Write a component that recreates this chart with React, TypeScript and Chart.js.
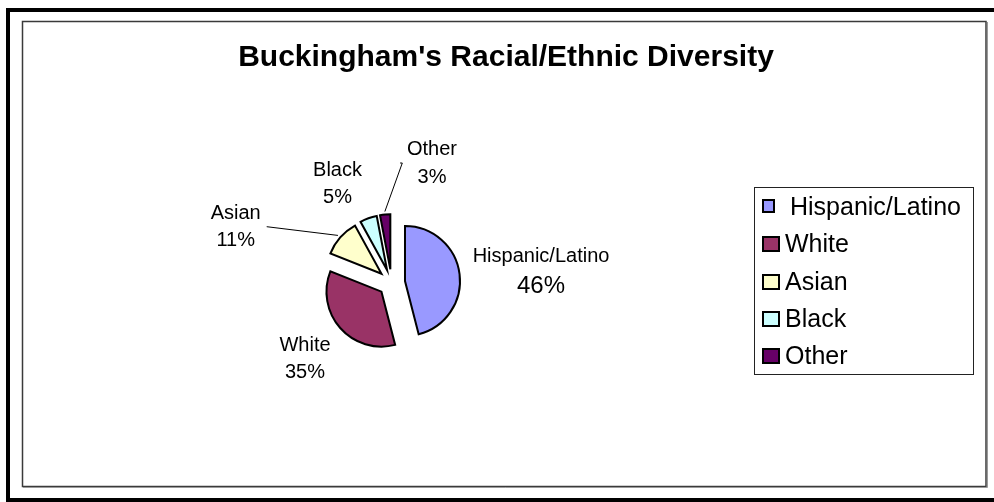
import React, { useEffect, useRef } from "react";
import { Chart, registerables } from "chart.js";

Chart.register(...registerables);

// ---- data ----
const TITLE = "Buckingham's Racial/Ethnic Diversity";
const categories = ["Hispanic/Latino", "White", "Asian", "Black", "Other"];
const values = [46, 35, 11, 5, 3];
const colors = ["#9999FF", "#993366", "#FFFFCC", "#CCFFFF", "#660066"];

// ---- layout / style ----
const W = 994;
const H = 502;
const FONT = "'Liberation Sans', Arial, Helvetica, sans-serif";
const PIE_CX = 391.6;
const PIE_CY = 282.7;
const PIE_R = 55;
const EXPLODE = 13.5;

// data label placement relative to pie center (x center, first baseline)
const labelLayout = [
  { dx: 149.4, dy: -20.7, gap: 31, nameSize: 20, pctSize: 24 },
  { dx: -86.6, dy: 68.3, gap: 27, nameSize: 20, pctSize: 20 },
  { dx: -155.9, dy: -63.7, gap: 27, nameSize: 20, pctSize: 20 },
  { dx: -54.1, dy: -106.7, gap: 27, nameSize: 20, pctSize: 20 },
  { dx: 40.4, dy: -127.7, gap: 28, nameSize: 20, pctSize: 20 },
];
// leader line start points relative to pie center (null = none)
const leaderStarts: (number[][] | null)[] = [
  null,
  null,
  [[-124.9, -56]],
  null,
  [[8.5, -119.7], [10.7, -119.7]],
];

const legendBox = { x: 754, y: 187, w: 219, h: 187 };
const legendRows = [
  { sx: 763, sw: 11, sh: 12, sBottom: 212, tx: 790, base: 215 },
  { sx: 763, sw: 16, sh: 14, sBottom: 251, tx: 785, base: 252 },
  { sx: 763, sw: 16, sh: 14, sBottom: 289, tx: 785, base: 289.5 },
  { sx: 763, sw: 16, sh: 14, sBottom: 326, tx: 785, base: 327 },
  { sx: 763, sw: 16, sh: 14, sBottom: 363, tx: 785, base: 364 },
];

const framePlugin = {
  id: "frame",
  beforeDraw(chart: any) {
    const ctx = chart.ctx;
    ctx.save();
    ctx.fillStyle = "#ffffff";
    ctx.fillRect(0, 0, W, H);
    // outer thick black frame
    ctx.strokeStyle = "#000000";
    ctx.lineWidth = 4;
    ctx.strokeRect(8, 10, 1000, 490);
    // inner frame
    ctx.strokeStyle = "#3a3a3a";
    ctx.lineWidth = 1.5;
    ctx.strokeRect(22.5, 21.5, 963.5, 465);
    ctx.strokeStyle = "#9a9a9a";
    ctx.lineWidth = 1;
    ctx.beginPath();
    ctx.moveTo(23, 487.5);
    ctx.lineTo(987.5, 487.5);
    ctx.lineTo(987.5, 22);
    ctx.stroke();
    ctx.restore();
  },
  beforeDatasetsDraw(chart: any) {
    const meta = chart.getDatasetMeta(0);
    const ca = chart.chartArea;
    const cx = (ca.left + ca.right) / 2;
    const cy = (ca.top + ca.bottom) / 2;
    meta.data.forEach((arc: any) => {
      const mid = (arc.startAngle + arc.endAngle) / 2;
      arc.x = cx + Math.cos(mid) * EXPLODE;
      arc.y = cy + Math.sin(mid) * EXPLODE;
    });
  },
  afterDraw(chart: any) {
    const ctx = chart.ctx;
    const ca = chart.chartArea;
    const cx = (ca.left + ca.right) / 2;
    const cy = (ca.top + ca.bottom) / 2;
    const meta = chart.getDatasetMeta(0);
    const data: number[] = chart.data.datasets[0].data;
    const bg: string[] = chart.data.datasets[0].backgroundColor;
    const labels: string[] = chart.data.labels;
    const total = data.reduce((a, b) => a + b, 0);

    ctx.save();
    // title
    ctx.fillStyle = "#000";
    ctx.font = `bold 30px ${FONT}`;
    ctx.textAlign = "center";
    ctx.textBaseline = "alphabetic";
    ctx.fillText(TITLE, 506, 66);

    // leader lines
    ctx.strokeStyle = "#000";
    ctx.lineWidth = 1;
    meta.data.forEach((arc: any, i: number) => {
      const pts = leaderStarts[i];
      if (!pts) return;
      const mid = (arc.startAngle + arc.endAngle) / 2;
      const r = arc.outerRadius + 3;
      ctx.beginPath();
      pts.forEach((p, k) => {
        if (k === 0) ctx.moveTo(cx + p[0], cy + p[1]);
        else ctx.lineTo(cx + p[0], cy + p[1]);
      });
      ctx.lineTo(arc.x + Math.cos(mid) * r, arc.y + Math.sin(mid) * r);
      ctx.stroke();
    });

    // data labels
    ctx.fillStyle = "#000";
    ctx.textAlign = "center";
    labels.forEach((lab, i) => {
      const L = labelLayout[i];
      const x = cx + L.dx;
      const y = cy + L.dy;
      ctx.font = `${L.nameSize}px ${FONT}`;
      ctx.fillText(lab, x, y);
      ctx.font = `${L.pctSize}px ${FONT}`;
      ctx.fillText(Math.round((data[i] / total) * 100) + "%", x, y + L.gap);
    });

    // legend
    ctx.strokeStyle = "#222";
    ctx.lineWidth = 1;
    ctx.strokeRect(legendBox.x + 0.5, legendBox.y + 0.5, legendBox.w, legendBox.h);
    ctx.textAlign = "left";
    ctx.font = `25px ${FONT}`;
    labels.forEach((lab, i) => {
      const R = legendRows[i];
      ctx.fillStyle = bg[i];
      ctx.fillRect(R.sx, R.sBottom - R.sh, R.sw, R.sh);
      ctx.strokeStyle = "#000";
      ctx.lineWidth = 2;
      ctx.strokeRect(R.sx, R.sBottom - R.sh, R.sw, R.sh);
      ctx.fillStyle = "#000";
      ctx.fillText(lab, R.tx, R.base);
    });
    ctx.restore();
  },
};

export default function App() {
  const ref = useRef<HTMLCanvasElement | null>(null);
  useEffect(() => {
    if (!ref.current) return;
    const chart = new Chart(ref.current, {
      type: "pie",
      data: {
        labels: categories,
        datasets: [
          {
            data: values,
            backgroundColor: colors,
            borderColor: "#000000",
            borderWidth: 2,
            borderJoinStyle: "miter",
            radius: PIE_R,
          } as any,
        ],
      },
      options: {
        responsive: false,
        animation: false,
        devicePixelRatio: 1,
        events: [],
        radius: PIE_R,
        layout: {
          padding: {
            left: PIE_CX - 100,
            right: W - (PIE_CX + 100),
            top: PIE_CY - 100,
            bottom: H - (PIE_CY + 100),
          },
        },
        plugins: {
          legend: { display: false },
          title: { display: false },
          tooltip: { enabled: false },
        },
      } as any,
      plugins: [framePlugin],
    });
    return () => chart.destroy();
  }, []);
  return (
    <div style={{ position: "fixed", left: 0, top: 0, width: W, height: H, background: "#fff" }}>
      <canvas ref={ref} width={W} height={H} style={{ display: "block", width: W, height: H }} />
    </div>
  );
}
